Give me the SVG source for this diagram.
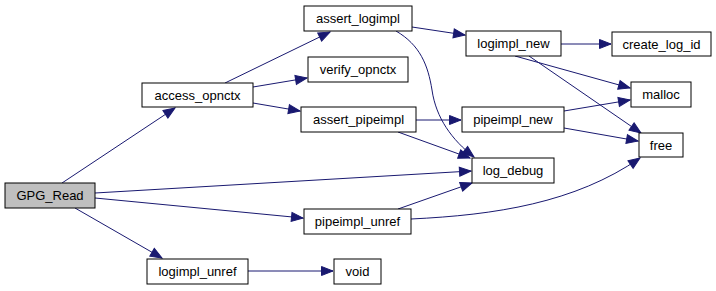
<svg xmlns="http://www.w3.org/2000/svg" width="716" height="291" viewBox="0 0 716 291">
  <style>
    .node rect { fill: #ffffff; stroke: #000000; stroke-width: 1; }
    .node.root rect { fill: #bfbfbf; }
    .node text { font-family: "Liberation Sans", Arial, Helvetica, sans-serif; font-size: 13px; fill: #000000; text-anchor: middle; }
    .edge { fill: none; stroke: #191970; stroke-width: 1; marker-end: url(#arrow); }
  </style>
  <defs>
    <marker id="arrow" markerUnits="userSpaceOnUse" markerWidth="13" markerHeight="11" refX="11.5" refY="4.5" orient="auto" overflow="visible">
      <path d="M0,0 L11.5,4.5 L0,9 z" fill="#191970" stroke="#191970" stroke-width="1"/>
    </marker>
  </defs>
  <rect width="716" height="291" fill="#ffffff"/>

  <g id="edges">
    <path class="edge" d="M62,183 L175,108"/>
    <path class="edge" d="M95,193 L471,171"/>
    <path class="edge" d="M95,198 L303,218"/>
    <path class="edge" d="M75,208 L162,258"/>
    <path class="edge" d="M225,83 L330,32"/>
    <path class="edge" d="M253,87 L307,78"/>
    <path class="edge" d="M253,103 L300,111"/>
    <path class="edge" d="M412,27 L465,35"/>
    <path class="edge" d="M396,31 C420,45 428,65 432,90 C436,118 452,140 474,157"/>
    <path class="edge" d="M416,120 L461,120"/>
    <path class="edge" d="M398,132 L470,158"/>
    <path class="edge" d="M561,44 L611,44"/>
    <path class="edge" d="M515,56 L630,88"/>
    <path class="edge" d="M529,56 L641,133"/>
    <path class="edge" d="M564,111 L630,100"/>
    <path class="edge" d="M564,128 L638,141"/>
    <path class="edge" d="M398,209 L472,183"/>
    <path class="edge" d="M411,219 C495,215 575,203 640,158"/>
    <path class="edge" d="M248,271 L333,271"/>
  </g>

  <g id="GPG_Read" class="node root"><rect x="5" y="183" width="90" height="25"/><text x="50" y="200">GPG_Read</text></g>
  <g id="access_opnctx" class="node"><rect x="142" y="83" width="111" height="24"/><text x="197.5" y="99.5">access_opnctx</text></g>
  <g id="assert_logimpl" class="node"><rect x="304" y="6" width="108" height="25"/><text x="358" y="23">assert_logimpl</text></g>
  <g id="verify_opnctx" class="node"><rect x="308" y="57" width="100" height="25"/><text x="358" y="74">verify_opnctx</text></g>
  <g id="assert_pipeimpl" class="node"><rect x="301" y="107" width="115" height="25"/><text x="358.5" y="124">assert_pipeimpl</text></g>
  <g id="logimpl_new" class="node"><rect x="466" y="31" width="95" height="25"/><text x="513.5" y="48">logimpl_new</text></g>
  <g id="create_log_id" class="node"><rect x="612" y="32" width="99" height="24"/><text x="661.5" y="48.5">create_log_id</text></g>
  <g id="malloc" class="node"><rect x="631" y="82" width="60" height="25"/><text x="661" y="99">malloc</text></g>
  <g id="pipeimpl_new" class="node"><rect x="462" y="107" width="102" height="25"/><text x="513" y="124">pipeimpl_new</text></g>
  <g id="free" class="node"><rect x="639" y="133" width="44" height="24"/><text x="661" y="149.5">free</text></g>
  <g id="log_debug" class="node"><rect x="472" y="158" width="82" height="25"/><text x="513" y="175">log_debug</text></g>
  <g id="pipeimpl_unref" class="node"><rect x="304" y="209" width="107" height="25"/><text x="357.5" y="226">pipeimpl_unref</text></g>
  <g id="logimpl_unref" class="node"><rect x="147" y="259" width="101" height="25"/><text x="197.5" y="276">logimpl_unref</text></g>
  <g id="void" class="node"><rect x="334" y="259" width="47" height="25"/><text x="357.5" y="276">void</text></g>
</svg>
